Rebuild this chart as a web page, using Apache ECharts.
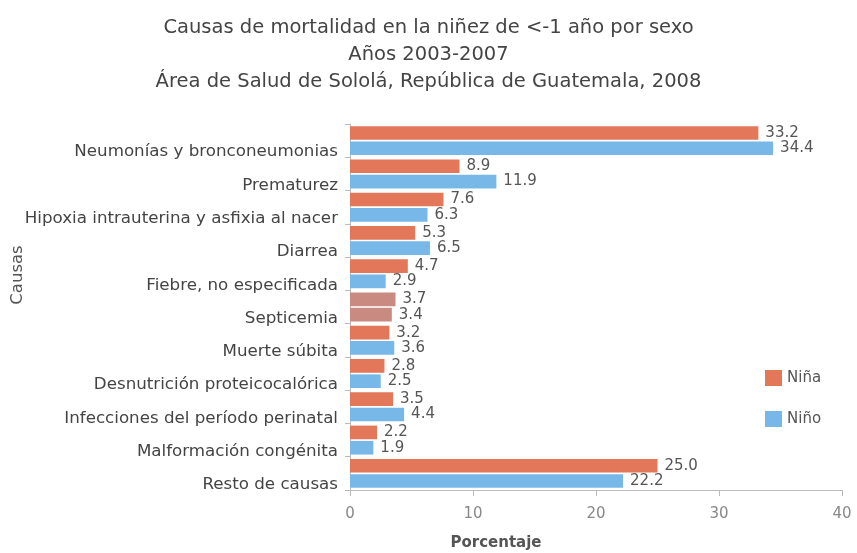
<!DOCTYPE html>
<html><head><meta charset="utf-8">
<script src="https://cdn.jsdelivr.net/npm/echarts@6/dist/echarts.min.js"></script>
<style>html,body{margin:0;padding:0;background:#fff}#c{width:857px;height:553px}</style>
</head><body><div id="c"></div>
<script>
var categories = ["Neumonías y bronconeumonias","Prematurez","Hipoxia intrauterina y asfixia al nacer","Diarrea","Fiebre, no especificada","Septicemia","Muerte súbita","Desnutrición proteicocalórica","Infecciones del período perinatal","Malformación congénita","Resto de causas"];
var nina = [33.2,8.9,7.6,5.3,4.7,3.7,3.2,2.8,3.5,2.2,25.0];
var nino = [34.4,11.9,6.3,6.5,2.9,3.4,3.6,2.5,4.4,1.9,22.2];
var ticks = [0,10,20,30,40];

var FONT = 'DejaVu Sans, Liberation Sans, Arial';
var oddIndex = 5;
function mk(arr) {
  return arr.map(function(v, i){
    return i === oddIndex ? {value: v, itemStyle:{color:'#c98a82'}} : v;
  });
}
var chart = echarts.init(document.getElementById('c'));
chart.setOption({
  animation:false,
  title:{text:'Causas de mortalidad en la niñez de <-1 año por sexo\nAños 2003-2007\nÁrea de Salud de Sololá, República de Guatemala, 2008',
    left:'center', top:9, textStyle:{fontFamily:FONT, fontSize:19.5, fontWeight:'normal', color:'#444', lineHeight:27}},
  legend:{orient:'vertical', left:760, top:365, itemWidth:17, itemHeight:16, itemGap:25, icon:'rect',
    textStyle:{fontFamily:FONT, fontSize:15, color:'#555'}, data:['Niña','Niño']},
  grid:{left:350, right:15, top:124, bottom:63, containLabel:false, outerBoundsMode:'none'},
  xAxis:{type:'value', min:ticks[0], max:ticks[ticks.length-1], interval:ticks[1]-ticks[0], name:'Porcentaje', nameLocation:'middle', nameGap:46,
    nameMoveOverlap:false,
    nameTextStyle:{fontFamily:FONT, fontSize:15, fontWeight:'bold', color:'#555', padding:[0,200,0,0]},
    axisLine:{show:true, lineStyle:{color:'#bbb'}}, axisTick:{show:true, length:6, lineStyle:{color:'#bbb'}},
    splitLine:{show:false}, axisLabel:{fontFamily:FONT, fontSize:15, color:'#888', margin:17}},
  yAxis:{type:'category', inverse:true, data:categories, name:'Causas', nameLocation:'middle', nameGap:324, nameRotate:90,
    nameMoveOverlap:false,
    nameTextStyle:{fontFamily:FONT, fontSize:16.5, color:'#555', padding:[0,0,0,64]},
    axisLine:{lineStyle:{color:'#bbb'}}, axisTick:{show:true, length:5, lineStyle:{color:'#bbb'}},
    axisLabel:{fontFamily:FONT, fontSize:16.7, color:'#444', margin:12, verticalAlign:'top', padding:[3,0,0,0]}},
  series:[
    {name:'Niña', type:'bar', data:mk(nina), barGap:'12%', barCategoryGap:'13%',
     itemStyle:{color:'#e2775a'},
     label:{show:true, position:'right', distance:7, formatter:function(p){return p.value.toFixed(1);}, fontFamily:FONT, fontSize:15, color:'#555'}},
    {name:'Niño', type:'bar', data:mk(nino), itemStyle:{color:'#78b8e8'},
     label:{show:true, position:'right', distance:7, formatter:function(p){return p.value.toFixed(1);}, fontFamily:FONT, fontSize:15, color:'#555'}}
  ]
});
</script></body></html>
